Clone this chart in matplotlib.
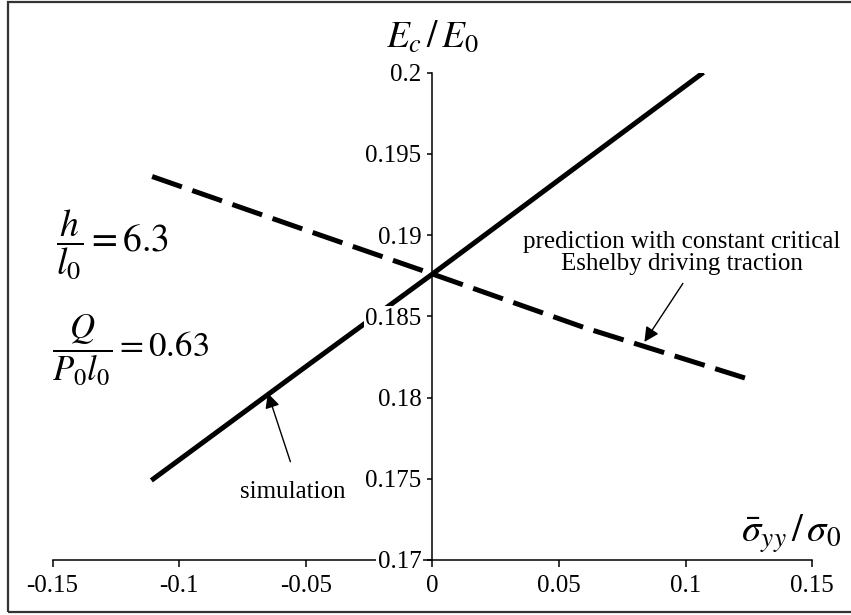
import matplotlib
matplotlib.use("Agg")
import matplotlib.pyplot as plt
from matplotlib.patches import Rectangle

plt.rcParams["font.family"] = ["Liberation Serif", "DejaVu Serif"]
plt.rcParams["mathtext.fontset"] = "stix"

# data
sim_x = [-0.111, -0.05, 0.0, 0.05, 0.107]
sim_y = [0.1749, 0.1819, 0.1876, 0.1934, 0.2]

pred_x = [-0.1107, -0.05, 0.0, 0.06, 0.1234]
pred_y = [0.1936, 0.1903, 0.1876, 0.1843, 0.1812]

x_ticks = [-0.15, -0.1, -0.05, 0, 0.05, 0.1, 0.15]
x_tick_labels = ["-0.15", "-0.1", "-0.05", "0", "0.05", "0.1", "0.15"]
y_ticks = [0.17, 0.175, 0.18, 0.185, 0.19, 0.195, 0.2]
y_tick_labels = ["0.17", "0.175", "0.18", "0.185", "0.19", "0.195", "0.2"]

fig = plt.figure(figsize=(8.51, 6.15), dpi=100)
ax = fig.add_axes([52.6 / 851, 1 - 560 / 615, (812.3 - 52.6) / 851, (560 - 72.5) / 615])

ax.plot(sim_x, sim_y, color="black", lw=3.6, solid_capstyle="butt")
ax.plot(pred_x, pred_y, color="black", lw=3.6, linestyle=(0, (6.3, 2.2)),
        dash_capstyle="butt")

ax.set_xlim(-0.15, 0.15)
ax.set_ylim(0.17, 0.2)

# axis frame: y axis through x = 0, x axis along the bottom
ax.spines["top"].set_visible(False)
ax.spines["right"].set_visible(False)
ax.spines["left"].set_position(("data", 0))
for s in ("left", "bottom"):
    ax.spines[s].set_linewidth(1.1)
ax.set_axisbelow(False)

ax.set_xticks(x_ticks)
ax.set_xticklabels(x_tick_labels)
ax.set_yticks(y_ticks)
ax.set_yticklabels(y_tick_labels)
ax.tick_params(axis="x", direction="out", length=5, width=1.1, labelsize=18, pad=6)
ax.tick_params(axis="y", direction="out", length=3.8, width=1.1, labelsize=18, pad=4)
for lab in ax.get_yticklabels():
    lab.set_bbox(dict(facecolor="white", edgecolor="none", pad=1.0))

# axis titles
ax.text(0.0, 0.2022, r"$E_c\,/\,E_0$", ha="center", va="center", fontsize=27)
ax.text(0.1615, 0.1716, r"$\bar{\sigma}_{yy}\,/\,\sigma_0$", ha="right",
        va="center", fontsize=28)

# parameters on the left
ax.text(-0.1485, 0.1894, r"$\dfrac{h}{l_0} = 6.3$", ha="left", va="center",
        fontsize=27)
ax.text(-0.1504, 0.1829, r"$\dfrac{Q}{P_0 l_0} = 0.63$", ha="left",
        va="center", fontsize=25)

arrow = dict(arrowstyle="-|>", color="black", lw=1.0, mutation_scale=22,
             shrinkA=0, shrinkB=0)
ax.annotate("", xy=(-0.065, 0.18026), xytext=(-0.0561, 0.17605),
            arrowprops=arrow)
ax.text(-0.0553, 0.1742, "simulation", ha="center", va="center", fontsize=18)

ax.annotate("", xy=(0.0837, 0.18342), xytext=(0.0989, 0.18702),
            arrowprops=arrow)
ax.text(0.0985, 0.1889,
        "prediction with constant critical\nEshelby driving traction",
        ha="center", va="center", fontsize=18, linespacing=1.0)

# outer border around the figure
fig.add_artist(Rectangle((8 / 851, 3 / 615), 1.1, 610 / 615,
                         transform=fig.transFigure, fill=False,
                         edgecolor="#333333", lw=1.6, clip_on=False))

fig.savefig("out.png", dpi=100)
